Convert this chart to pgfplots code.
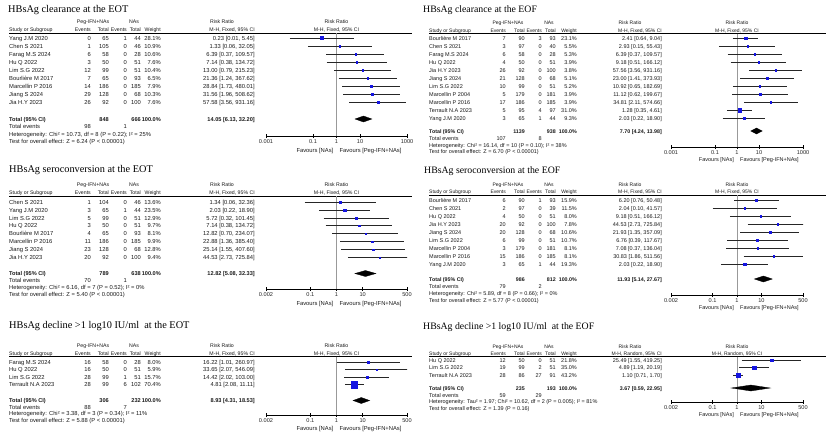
\documentclass[border=0pt]{standalone}
\usepackage{fontspec}
\setmainfont{Liberation Serif}
\setsansfont{Liberation Sans}
\usepackage{pgfplots}
\pgfplotsset{compat=1.18}
\definecolor{sqblue}{RGB}{20,20,225}

% forest-plot axis: #1 x left, #2 y top, #3 width, #4 height, #5 y bottom, #6 xmin, #7 xmax, #8 ticks
\newcommand\faxis[8]{%
  \begin{axis}[anchor=north west, at={(#1pt,-#2pt)}, width=#3pt, height=#4pt, scale only axis,
    xmode=log, xmin=#6, xmax=#7, ymin=#2, ymax=#5, y dir=reverse,
    axis x line=bottom, axis y line=none,
    x axis line style={-, black, line width=0.5pt},
    xminorticks=false, major tick length=4pt, tick align=center,
    tick style={black, line width=0.4pt},
    xtick={#8}, xticklabels={#8},
    x tick label style={font=\sffamily\fontsize{5.6}{6}\selectfont, text=black!85, inner sep=1pt},
    enlargelimits=false, clip=true, unbounded coords=jump]
  \draw[gray!80, line width=0.6pt] (axis cs:1,#2) -- (axis cs:1,#5);}

\pgfplotsset{
  myci/.style={black!85, line width=0.5pt, no marks},
  mysq/.style={scatter, only marks, mark=square*, mark options={line width=0.1pt},
    scatter/use mapped color={draw=sqblue, fill=sqblue},
    visualization depends on={0.45+0.037*\thisrow{w} \as \ms},
    scatter/@pre marker code/.append style={/tikz/mark size=\ms}},
  mydia/.style={fill=black, draw=black, line width=0.3pt, no marks},
}

% column positions of the left and right panels
\newcommand\setL{\def\xS{9}\def\xA{91}\def\xB{109}\def\xC{127}\def\xD{141}\def\xW{161}\def\xR{255}%
  \def\xPeg{93}\def\xNA{134}\def\xRRc{222}\def\xFc{336.5}\def\xE{412}%
  \def\tf{\sffamily\fontsize{5.8}{6.5}\selectfont}%
  \def\bf{\sffamily\bfseries\fontsize{5.6}{6.5}\selectfont}%
  \def\hf{\sffamily\fontsize{5.2}{6}\selectfont}}
\newcommand\setR{\def\xS{429}\def\xA{506}\def\xB{525}\def\xC{542}\def\xD{556}\def\xW{577}\def\xR{662}%
  \def\xPeg{508}\def\xNA{549}\def\xRRc{630}\def\xFc{737}\def\xE{826}%
  \def\tf{\sffamily\fontsize{5.5}{6.2}\selectfont}%
  \def\bf{\sffamily\bfseries\fontsize{5.3}{6.2}\selectfont}%
  \def\hf{\sffamily\fontsize{5.0}{6}\selectfont}}

\tikzset{T/.style={inner sep=0pt, font=\tf, text=black!90, anchor=mid},
         H/.style={inner sep=0pt, font=\hf, text=black!90, anchor=mid},
         B/.style={inner sep=0pt, font=\bf, text=black!90, anchor=mid}}

\newcommand\ttitle[4]{\node[anchor=mid west, inner sep=0pt, font=\fontsize{#3}{12}\selectfont] at (#1,#2) {#4};}
\newcommand\thead[4]{%
  \node[H] at (\xPeg,#1) {Peg-IFN+NAs};
  \node[H] at (\xNA,#1) {NAs};
  \node[H] at (\xRRc,#1) {Risk Ratio};
  \node[H] at (\xFc,#1) {Risk Ratio};
  \node[H,anchor=mid west] at (\xS,#2) {Study or Subgroup};
  \node[H,anchor=mid east] at (\xA,#2) {Events};
  \node[H,anchor=mid east] at (\xB,#2) {Total};
  \node[H,anchor=mid east] at (\xC,#2) {Events};
  \node[H,anchor=mid east] at (\xD,#2) {Total};
  \node[H,anchor=mid east] at (\xW,#2) {Weight};
  \node[H,anchor=mid east] at (\xR,#2) {M-H, #4, 95\% CI};
  \node[H] at (\xFc,#2) {M-H, #4, 95\% CI};
  \draw[line width=0.5pt] (\xS,#3) -- (\xE,#3);}
\newcommand\trow[8]{%
  \node[T,anchor=mid west] at (\xS,#1) {#2};
  \node[T,anchor=mid east] at (\xA,#1) {#3};
  \node[T,anchor=mid east] at (\xB,#1) {#4};
  \node[T,anchor=mid east] at (\xC,#1) {#5};
  \node[T,anchor=mid east] at (\xD,#1) {#6};
  \node[T,anchor=mid east] at (\xW,#1) {#7};
  \node[T,anchor=mid east] at (\xR,#1) {#8};}
\newcommand\ttotal[4]{%
  \node[B,anchor=mid west] at (\xS,#1) {Total (95\% CI)};
  \node[B,anchor=mid east] at (\xB,#1) {#2};
  \node[B,anchor=mid east] at (\xD,#1) {#3};
  \node[B,anchor=mid east] at (\xW,#1) {100.0\%};
  \node[B,anchor=mid east] at (\xR,#1) {#4};}
\newcommand\tevents[3]{%
  \node[T,anchor=mid west] at (\xS,#1) {Total events};
  \node[T,anchor=mid east] at (\xA,#1) {#2};
  \node[T,anchor=mid east] at (\xC,#1) {#3};}
\newcommand\tline[2]{\node[T,anchor=mid west] at (\xS,#1) {#2};}
\newcommand\tfav[1]{%
  \node[T,anchor=mid east] at (\xFc-3,#1) {Favours [NAs]};
  \node[T,anchor=mid west] at (\xFc+3,#1) {Favours [Peg-IFN+NAs]};}

\begin{document}
\begin{tikzpicture}[x=1pt,y=-1pt]
\useasboundingbox (0,0) rectangle (829,436);

%% ---------------- Panel 1: clearance EOT ----------------
\setL
\ttitle{8}{10}{10.3}{HBsAg clearance at the EOT}
\thead{21}{29.5}{33}{Fixed}
\trow{38}{Yang J.M 2020}{0}{65}{1}{44}{28.1\%}{0.23 [0.01, 5.45]}
\trow{46}{Chen S 2021}{1}{105}{0}{46}{10.9\%}{1.33 [0.06, 32.05]}
\trow{54}{Farag M.S 2024}{6}{58}{0}{28}{10.6\%}{6.39 [0.37, 109.57]}
\trow{62}{Hu Q 2022}{3}{50}{0}{51}{7.6\%}{7.14 [0.38, 134.72]}
\trow{70}{Lim S.G 2022}{12}{99}{0}{51}{10.4\%}{13.00 [0.79, 215.23]}
\trow{78}{Bourlière M 2017}{7}{65}{0}{93}{6.5\%}{21.36 [1.24, 367.62]}
\trow{86}{Marcellin P 2016}{14}{186}{0}{185}{7.9\%}{28.84 [1.73, 480.01]}
\trow{94}{Jiang S 2024}{29}{128}{0}{68}{10.3\%}{31.56 [1.96, 508.62]}
\trow{102}{Jia H.Y 2023}{26}{92}{0}{100}{7.6\%}{57.58 [3.56, 931.16]}
\ttotal{119}{848}{666}{14.05 [6.13, 32.20]}
\tevents{126.5}{98}{1}
\tline{134}{Heterogeneity: Chi² = 10.73, df = 8 (P = 0.22); I² = 25\%}
\tline{141}{Test for overall effect: Z = 6.24 (P < 0.00001)}
\tfav{150}
\faxis{266}{33}{141}{103}{136}{0.001}{1000}{0.001,0.1,1,10,1000}
\addplot[myci] table[row sep=\\] {x y\\ 0.01 38\\ 5.45 38\\ nan nan\\ 0.06 46\\ 32.05 46\\ nan nan\\
 0.37 54\\ 109.57 54\\ nan nan\\ 0.38 62\\ 134.72 62\\ nan nan\\ 0.79 70\\ 215.23 70\\ nan nan\\
 1.24 78\\ 367.62 78\\ nan nan\\ 1.73 86\\ 480.01 86\\ nan nan\\ 1.96 94\\ 508.62 94\\ nan nan\\
 3.56 102\\ 931.16 102\\};
\addplot[mysq] table[row sep=\\] {x y w\\ 0.23 38 28.1\\ 1.33 46 10.9\\ 6.39 54 10.6\\ 7.14 62 7.6\\
 13.00 70 10.4\\ 21.36 78 6.5\\ 28.84 86 7.9\\ 31.56 94 10.3\\ 57.58 102 7.6\\};
\addplot[mydia] coordinates {(6.13,119) (14.05,116) (32.20,119) (14.05,122)} --cycle;
\end{axis}

%% ---------------- Panel 3: seroconversion EOT ----------------
\ttitle{9}{170}{10.3}{HBsAg seroconversion at the EOT}
\thead{184}{192.5}{196}{Fixed}
\trow{202}{Chen S 2021}{1}{104}{0}{46}{13.6\%}{1.34 [0.06, 32.36]}
\trow{210}{Yang J.M 2020}{3}{65}{1}{44}{23.5\%}{2.03 [0.22, 18.90]}
\trow{218}{Lim S.G 2022}{5}{99}{0}{51}{12.9\%}{5.72 [0.32, 101.45]}
\trow{225.5}{Hu Q 2022}{3}{50}{0}{51}{9.7\%}{7.14 [0.38, 134.72]}
\trow{233.5}{Bourlière M 2017}{4}{65}{0}{93}{8.1\%}{12.82 [0.70, 234.07]}
\trow{241.5}{Marcellin P 2016}{11}{186}{0}{185}{9.9\%}{22.88 [1.36, 385.40]}
\trow{249.5}{Jiang S 2024}{23}{128}{0}{68}{12.8\%}{25.14 [1.55, 407.60]}
\trow{257.5}{Jia H.Y 2023}{20}{92}{0}{100}{9.4\%}{44.53 [2.73, 725.84]}
\ttotal{273.5}{789}{638}{12.82 [5.08, 32.33]}
\tevents{280.5}{70}{1}
\tline{287.5}{Heterogeneity: Chi² = 6.16, df = 7 (P = 0.52); I² = 0\%}
\tline{294.5}{Test for overall effect: Z = 5.40 (P < 0.00001)}
\tfav{303}
\faxis{266}{196}{141}{93}{289}{0.002}{500}{0.002,0.1,1,10,500}
\addplot[myci] table[row sep=\\] {x y\\ 0.06 202\\ 32.36 202\\ nan nan\\ 0.22 210\\ 18.90 210\\ nan nan\\
 0.32 218\\ 101.45 218\\ nan nan\\ 0.38 225.5\\ 134.72 225.5\\ nan nan\\ 0.70 233.5\\ 234.07 233.5\\ nan nan\\
 1.36 241.5\\ 385.40 241.5\\ nan nan\\ 1.55 249.5\\ 407.60 249.5\\ nan nan\\ 2.73 257.5\\ 725.84 257.5\\};
\addplot[mysq] table[row sep=\\] {x y w\\ 1.34 202 13.6\\ 2.03 210 23.5\\ 5.72 218 12.9\\ 7.14 225.5 9.7\\
 12.82 233.5 8.1\\ 22.88 241.5 9.9\\ 25.14 249.5 12.8\\ 44.53 257.5 9.4\\};
\addplot[mydia] coordinates {(5.08,273.5) (12.82,270.5) (32.33,273.5) (12.82,276.5)} --cycle;
\end{axis}

%% ---------------- Panel 5: decline EOT ----------------
\ttitle{9}{326}{10.3}{HBsAg decline >1 log10 IU/ml \ at the EOT}
\thead{345}{353}{356.5}{Fixed}
\trow{362}{Farag M.S 2024}{16}{58}{0}{28}{8.0\%}{16.22 [1.01, 260.97]}
\trow{369.5}{Hu Q 2022}{16}{50}{0}{51}{5.9\%}{33.65 [2.07, 546.09]}
\trow{377}{Lim S.G 2022}{28}{99}{1}{51}{15.7\%}{14.42 [2.02, 103.00]}
\trow{384.5}{Terrault N.A 2023}{28}{99}{6}{102}{70.4\%}{4.81 [2.08, 11.11]}
\ttotal{400.5}{306}{232}{8.93 [4.31, 18.53]}
\tevents{407}{88}{7}
\tline{413.5}{Heterogeneity: Chi² = 3.38, df = 3 (P = 0.34); I² = 11\%}
\tline{420}{Test for overall effect: Z = 5.88 (P < 0.00001)}
\tfav{428}
\faxis{266}{356.5}{141}{58.5}{415}{0.002}{500}{0.002,0.1,1,10,500}
\addplot[myci] table[row sep=\\] {x y\\ 1.01 362\\ 260.97 362\\ nan nan\\ 2.07 369.5\\ 546.09 369.5\\ nan nan\\
 2.02 377\\ 103.00 377\\ nan nan\\ 2.08 384.5\\ 11.11 384.5\\};
\addplot[mysq] table[row sep=\\] {x y w\\ 16.22 362 8.0\\ 33.65 369.5 5.9\\ 14.42 377 15.7\\ 4.81 384.5 70.4\\};
\addplot[mydia] coordinates {(4.31,400.5) (8.93,397.5) (18.53,400.5) (8.93,403.5)} --cycle;
\end{axis}

%% ---------------- Panel 2: clearance EOF ----------------
\setR
\ttitle{423}{10}{9.8}{HBsAg clearance at the EOF}
\thead{22}{30}{33.5}{Fixed}
\trow{38}{Bourlière M 2017}{7}{90}{3}{93}{23.1\%}{2.41 [0.64, 9.04]}
\trow{46}{Chen S 2021}{3}{97}{0}{40}{5.5\%}{2.93 [0.15, 55.43]}
\trow{54}{Farag M.S 2024}{6}{58}{0}{28}{5.3\%}{6.39 [0.37, 109.57]}
\trow{62}{Hu Q 2022}{4}{50}{0}{51}{3.9\%}{9.18 [0.51, 166.12]}
\trow{70}{Jia H.Y 2023}{26}{92}{0}{100}{3.8\%}{57.56 [3.56, 931.16]}
\trow{78}{Jiang S 2024}{21}{128}{0}{68}{5.1\%}{23.00 [1.41, 373.93]}
\trow{86}{Lim S.G 2022}{10}{99}{0}{51}{5.2\%}{10.92 [0.65, 182.69]}
\trow{94}{Marcellin P 2004}{5}{179}{0}{181}{3.9\%}{11.12 [0.62, 199.67]}
\trow{102}{Marcellin P 2016}{17}{186}{0}{185}{3.9\%}{34.81 [2.11, 574.66]}
\trow{110}{Terrault N.A 2023}{5}{95}{4}{97}{31.0\%}{1.28 [0.35, 4.61]}
\trow{118}{Yang J.M 2020}{3}{65}{1}{44}{9.3\%}{2.03 [0.22, 18.90]}
\ttotal{131}{1139}{938}{7.70 [4.24, 13.98]}
\tevents{138.5}{107}{8}
\tline{145}{Heterogeneity: Chi² = 16.14, df = 10 (P = 0.10); I² = 38\%}
\tline{151.5}{Test for overall effect: Z = 6.70 (P < 0.00001)}
\tfav{159}
\faxis{671}{33.5}{132}{113.5}{147}{0.001}{1000}{0.001,0.1,1,10,1000}
\addplot[myci] table[row sep=\\] {x y\\ 0.64 38\\ 9.04 38\\ nan nan\\ 0.15 46\\ 55.43 46\\ nan nan\\
 0.37 54\\ 109.57 54\\ nan nan\\ 0.51 62\\ 166.12 62\\ nan nan\\ 3.56 70\\ 931.16 70\\ nan nan\\
 1.41 78\\ 373.93 78\\ nan nan\\ 0.65 86\\ 182.69 86\\ nan nan\\ 0.62 94\\ 199.67 94\\ nan nan\\
 2.11 102\\ 574.66 102\\ nan nan\\ 0.35 110\\ 4.61 110\\ nan nan\\ 0.22 118\\ 18.90 118\\};
\addplot[mysq] table[row sep=\\] {x y w\\ 2.41 38 23.1\\ 2.93 46 5.5\\ 6.39 54 5.3\\ 9.18 62 3.9\\
 57.56 70 3.8\\ 23.00 78 5.1\\ 10.92 86 5.2\\ 11.12 94 3.9\\ 34.81 102 3.9\\ 1.28 110 31.0\\ 2.03 118 9.3\\};
\addplot[mydia] coordinates {(4.24,131) (7.70,128) (13.98,131) (7.70,134)} --cycle;
\end{axis}

%% ---------------- Panel 4: seroconversion EOF ----------------
\ttitle{424}{171}{9.8}{HBsAg seroconversion at the EOF}
\thead{184}{191.5}{195}{Fixed}
\trow{200}{Bourlière M 2017}{6}{90}{1}{93}{15.9\%}{6.20 [0.76, 50.48]}
\trow{208}{Chen S 2021}{2}{97}{0}{39}{11.5\%}{2.04 [0.10, 41.57]}
\trow{216}{Hu Q 2022}{4}{50}{0}{51}{8.0\%}{9.18 [0.51, 166.12]}
\trow{224}{Jia H.Y 2023}{20}{92}{0}{100}{7.8\%}{44.53 [2.73, 725.84]}
\trow{232}{Jiang S 2024}{20}{128}{0}{68}{10.6\%}{21.93 [1.35, 357.09]}
\trow{240}{Lim S.G 2022}{6}{99}{0}{51}{10.7\%}{6.76 [0.39, 117.67]}
\trow{248}{Marcellin P 2004}{3}{179}{0}{181}{8.1\%}{7.08 [0.37, 136.04]}
\trow{256}{Marcellin P 2016}{15}{186}{0}{185}{8.1\%}{30.83 [1.86, 511.56]}
\trow{264}{Yang J.M 2020}{3}{65}{1}{44}{19.3\%}{2.03 [0.22, 18.90]}
\ttotal{279}{986}{812}{11.93 [5.14, 27.67]}
\tevents{286.5}{79}{2}
\tline{293.5}{Heterogeneity: Chi² = 5.89, df = 8 (P = 0.66); I² = 0\%}
\tline{300.5}{Test for overall effect: Z = 5.77 (P < 0.00001)}
\tfav{307}
\faxis{671}{195}{132}{100}{295}{0.002}{500}{0.002,0.1,1,10,500}
\addplot[myci] table[row sep=\\] {x y\\ 0.76 200\\ 50.48 200\\ nan nan\\ 0.10 208\\ 41.57 208\\ nan nan\\
 0.51 216\\ 166.12 216\\ nan nan\\ 2.73 224\\ 725.84 224\\ nan nan\\ 1.35 232\\ 357.09 232\\ nan nan\\
 0.39 240\\ 117.67 240\\ nan nan\\ 0.37 248\\ 136.04 248\\ nan nan\\ 1.86 256\\ 511.56 256\\ nan nan\\
 0.22 264\\ 18.90 264\\};
\addplot[mysq] table[row sep=\\] {x y w\\ 6.20 200 15.9\\ 2.04 208 11.5\\ 9.18 216 8.0\\ 44.53 224 7.8\\
 21.93 232 10.6\\ 6.76 240 10.7\\ 7.08 248 8.1\\ 30.83 256 8.1\\ 2.03 264 19.3\\};
\addplot[mydia] coordinates {(5.14,279) (11.93,276) (27.67,279) (11.93,282)} --cycle;
\end{axis}

%% ---------------- Panel 6: decline EOF ----------------
\ttitle{423}{327}{9.8}{HBsAg decline >1 log10 IU/ml \ at the EOF}
\thead{346}{353}{356.5}{Random}
\trow{360}{Hu Q 2022}{12}{50}{0}{51}{21.8\%}{25.49 [1.55, 419.25]}
\trow{367.5}{Lim S.G 2022}{19}{99}{2}{51}{35.0\%}{4.89 [1.19, 20.19]}
\trow{375}{Terrault N.A 2023}{28}{86}{27}{91}{43.2\%}{1.10 [0.71, 1.70]}
\ttotal{388}{235}{193}{3.67 [0.59, 22.95]}
\tevents{395}{59}{29}
\tline{401.5}{Heterogeneity: Tau² = 1.97; Chi² = 10.62, df = 2 (P = 0.005); I² = 81\%}
\tline{408}{Test for overall effect: Z = 1.39 (P = 0.16)}
\tfav{414}
\faxis{671}{356.5}{132}{45.5}{402}{0.002}{500}{0.002,0.1,1,10,500}
\addplot[myci] table[row sep=\\] {x y\\ 1.55 360\\ 419.25 360\\ nan nan\\ 1.19 367.5\\ 20.19 367.5\\ nan nan\\
 0.71 375\\ 1.70 375\\};
\addplot[mysq] table[row sep=\\] {x y w\\ 25.49 360 21.8\\ 4.89 367.5 35.0\\ 1.10 375 43.2\\};
\addplot[mydia] coordinates {(0.59,388) (3.67,385) (22.95,388) (3.67,391)} --cycle;
\end{axis}
\end{tikzpicture}
\end{document}
